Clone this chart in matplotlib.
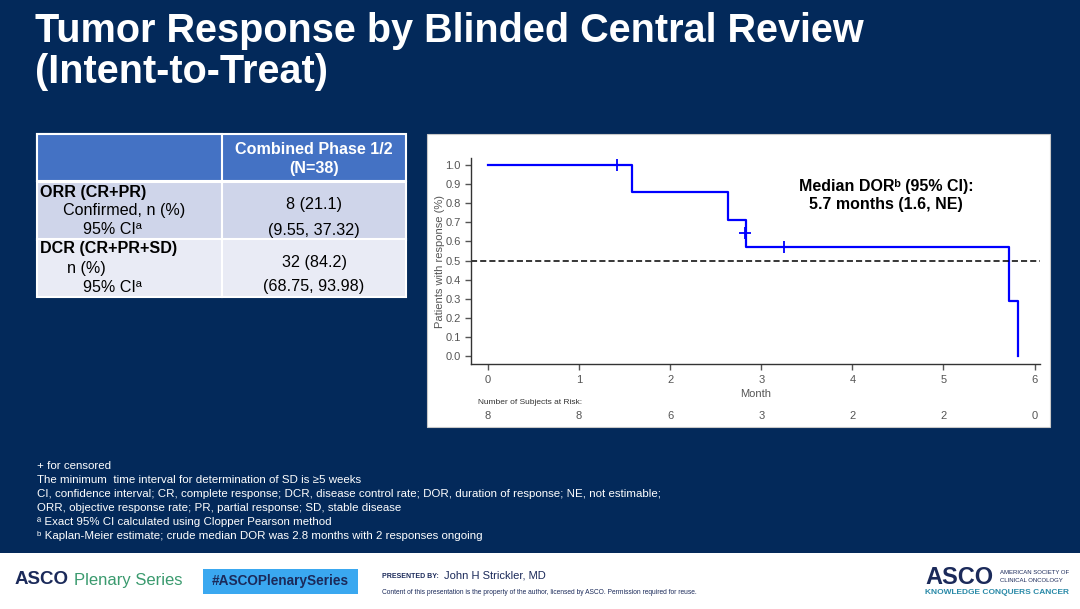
import matplotlib
matplotlib.use('Agg')
import matplotlib.pyplot as plt
from matplotlib.patches import Rectangle
from matplotlib.transforms import blended_transform_factory

plt.rcParams['font.family'] = ['Liberation Sans', 'DejaVu Sans']

# --- data ---
km_times = [0, 1.58, 2.63, 2.83, 5.72, 5.82]
km_surv = [1.0, 0.857, 0.714, 0.571, 0.286, 0.0]
censor_times = [1.42, 2.82, 3.25]
censor_surv = [1.0, 0.643, 0.571]
month_ticks = [0, 1, 2, 3, 4, 5, 6]
at_risk = [8, 8, 6, 3, 2, 2, 0]
y_ticks = [0.0, 0.1, 0.2, 0.3, 0.4, 0.5, 0.6, 0.7, 0.8, 0.9, 1.0]
median_line = 0.5

table_header = ['Combined Phase 1/2', '(N=38)']
table_rows = [
    (['ORR (CR+PR)', 'Confirmed, n (%)', '95% CI\u00aa'], ['8 (21.1)', '(9.55, 37.32)']),
    (['DCR (CR+PR+SD)', 'n (%)', '95% CI\u00aa'], ['32 (84.2)', '(68.75, 93.98)']),
]

footnotes = [
    '+ for censored',
    'The minimum  time interval for determination of SD is \u22655 weeks',
    'CI, confidence interval; CR, complete response; DCR, disease control rate; DOR, duration of response; NE, not estimable;',
    'ORR, objective response rate; PR, partial response; SD, stable disease',
    '\u00aa Exact 95% CI calculated using Clopper Pearson method',
    '\u1d47 Kaplan-Meier estimate; crude median DOR was 2.8 months with 2 responses ongoing',
]

NAVY = '#03295a'
W, H = 1080, 609

fig = plt.figure(figsize=(W / 100, H / 100), dpi=100)
fig.patch.set_facecolor(NAVY)

# background axes in pixel coordinates
bg = fig.add_axes([0, 0, 1, 1], zorder=0)
bg.set_xlim(0, W)
bg.set_ylim(H, 0)
bg.axis('off')

# title
bg.text(35, 42, 'Tumor Response by Blinded Central Review', color='white',
        fontsize=28.5, fontweight='bold', va='baseline', ha='left')
bg.text(35, 83, '(Intent-to-Treat)', color='white',
        fontsize=28.5, fontweight='bold', va='baseline', ha='left')

# table
fs_tab = 11.6
tx0, tx1, tcol = 37, 406, 222
bg.add_patch(Rectangle((tx0, 134), tx1 - tx0, 47, fc='#4472c4', ec='white', lw=1.5))
bg.add_patch(Rectangle((tx0, 134), tcol - tx0, 47, fc='#4472c4', ec='white', lw=1.5))
bg.text((tcol + tx1) / 2, 150, table_header[0], color='white', fontsize=fs_tab,
        fontweight='bold', ha='center', va='center')
bg.text((tcol + tx1) / 2, 169, table_header[1], color='white', fontsize=fs_tab,
        fontweight='bold', ha='center', va='center')
row_tops = [182, 239]
row_colors = ['#cfd5ea', '#e9ebf5']
for (labels, vals), top, col in zip(table_rows, row_tops, row_colors):
    bg.add_patch(Rectangle((tx0, top), tcol - tx0, 58, fc=col, ec='white', lw=1.5))
    bg.add_patch(Rectangle((tcol, top), tx1 - tcol, 58, fc=col, ec='white', lw=1.5))
    bg.text(40, top + 10, labels[0], fontsize=fs_tab, fontweight='bold', va='center')
    bg.text(63 if labels[1].startswith('C') else 67, top + 29, labels[1],
            fontsize=fs_tab, va='center')
    bg.text(83, top + 48, labels[2], fontsize=fs_tab, va='center')
    bg.text((tcol + tx1) / 2, top + 23, vals[0], fontsize=fs_tab, ha='center', va='center')
    bg.text((tcol + tx1) / 2, top + 48, vals[1], fontsize=fs_tab, ha='center', va='center')

# chart panel
bg.add_patch(Rectangle((427, 134), 623, 293, fc='white', ec='#c8c8c8', lw=0.8))

# footnotes
for i, line in enumerate(footnotes):
    bg.text(37, 466 + i * 14, line, color='white', fontsize=8.28, va='center')

# footer
bg.add_patch(Rectangle((0, 553), W, H - 553, fc='white', ec='none'))
bg.text(15, 580, 'ASCO', color='#1b2a5a', fontsize=13.5, fontweight='bold', va='center')
bg.text(74, 580, 'Plenary Series', color='#3a9a6e', fontsize=12, va='center')
bg.add_patch(Rectangle((203, 569), 155, 25, fc='#3aa8f0', ec='none'))
bg.text(280, 581.5, '#ASCOPlenarySeries', color='#1b2a5a', fontsize=9.8,
        fontweight='bold', ha='center', va='center')
bg.text(382, 577, 'PRESENTED BY:', color='#1b2a5a', fontsize=5, fontweight='bold', va='center')
bg.text(444, 576, 'John H Strickler, MD', color='#1b2a5a', fontsize=8, va='center')
bg.text(382, 592, 'Content of this presentation is the property of the author, '
        'licensed by ASCO. Permission required for reuse.', color='#1b2a5a',
        fontsize=4.75, va='center')
bg.text(925, 577, 'ASCO', color='#1b2a5a', fontsize=17, fontweight='bold', va='center')
bg.text(1000, 572, 'AMERICAN SOCIETY OF', color='#1b2a5a', fontsize=4.3, va='center')
bg.text(1000, 580, 'CLINICAL ONCOLOGY', color='#1b2a5a', fontsize=4.3, va='center')
bg.text(925, 592, 'KNOWLEDGE CONQUERS CANCER', color='#2a8aa8', fontsize=6.0,
        fontweight='bold', va='center')

# KM chart
ax = fig.add_axes([471 / W, 1 - 364 / H, 569 / W, 206 / H], zorder=1)
ax.set_facecolor('none')
ax.step(km_times, km_surv, where='post', color='#0000ff', lw=1.6)
ax.plot(censor_times, censor_surv, linestyle='none', marker='+', color='#0000ff',
        markersize=9, markeredgewidth=1.3)
ax.axhline(median_line, color='black', lw=1.1, ls=(0, (4, 2)))
ax.set_xlim(-0.186, 6.06)
ax.set_ylim(-0.042, 1.037)
ax.set_xticks(month_ticks)
ax.set_yticks(y_ticks)
ax.set_yticklabels([f'{v:.1f}' for v in y_ticks])
for s in ['top', 'right']:
    ax.spines[s].set_visible(False)
for s in ['left', 'bottom']:
    ax.spines[s].set_color('#333333')
    ax.spines[s].set_linewidth(1.0)
ax.tick_params(colors='#555555', labelsize=8, length=4, width=1.0)
ax.tick_params(axis='x', pad=4)
ax.set_xlabel('Month', fontsize=8, color='#555555', labelpad=3)
ax.set_ylabel('Patients with response (%)', fontsize=8, color='#555555', labelpad=0)

ax.text(4.37, 0.89, 'Median DOR\u1d47 (95% CI):', fontsize=11.5, fontweight='bold',
        ha='center', va='center')
ax.text(4.37, 0.795, '5.7 months (1.6, NE)', fontsize=11.5, fontweight='bold',
        ha='center', va='center')

tr = blended_transform_factory(ax.transData, bg.transData)
bg.text(478, 402, 'Number of Subjects at Risk:', fontsize=6, color='#333333', va='center')
for m, n in zip(month_ticks, at_risk):
    ax.text(m, 416, str(n), transform=tr, fontsize=8, color='#555555',
            ha='center', va='center')

fig.savefig('out.png', dpi=100, facecolor=fig.get_facecolor())
